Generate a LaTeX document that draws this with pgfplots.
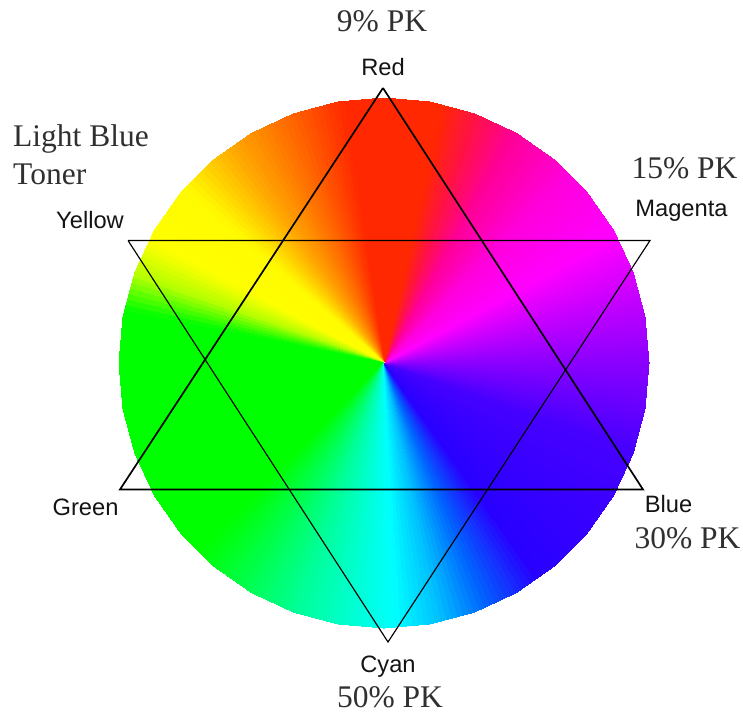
\documentclass[border=0pt]{standalone}
\usepackage{pgfplots}
\usepgfplotslibrary{patchplots}
\pgfplotsset{compat=1.18}
\usepackage{fontspec}
\setmainfont{Liberation Serif}
\newfontfamily\arial{Liberation Sans}

\definecolor{pktext}{RGB}{48,48,48}
\definecolor{lbltext}{RGB}{20,20,20}

% wheel: each wedge = one bilinear patch (centre, rim a, rim b, centre), meta = angle
\pgfplotstableread{
x y c
0 0 0
265 0 0
260.97 46.02 10
0 0 10
0 0 10
260.97 46.02 10
249.02 90.64 20
0 0 20
0 0 20
249.02 90.64 20
229.50 132.50 30
0 0 30
0 0 30
229.50 132.50 30
203.00 170.34 40
0 0 40
0 0 40
203.00 170.34 40
170.34 203.00 50
0 0 50
0 0 50
170.34 203.00 50
132.50 229.50 60
0 0 60
0 0 60
132.50 229.50 60
90.64 249.02 70
0 0 70
0 0 70
90.64 249.02 70
46.02 260.97 80
0 0 80
0 0 80
46.02 260.97 80
0 265 90
0 0 90
0 0 90
0 265 90
-46.02 260.97 100
0 0 100
0 0 100
-46.02 260.97 100
-90.64 249.02 110
0 0 110
0 0 110
-90.64 249.02 110
-132.50 229.50 120
0 0 120
0 0 120
-132.50 229.50 120
-170.34 203.00 130
0 0 130
0 0 130
-170.34 203.00 130
-203.00 170.34 140
0 0 140
0 0 140
-203.00 170.34 140
-229.50 132.50 150
0 0 150
0 0 150
-229.50 132.50 150
-249.02 90.64 160
0 0 160
0 0 160
-249.02 90.64 160
-260.97 46.02 170
0 0 170
0 0 170
-260.97 46.02 170
-265 0 180
0 0 180
0 0 180
-265 0 180
-260.97 -46.02 190
0 0 190
0 0 190
-260.97 -46.02 190
-249.02 -90.64 200
0 0 200
0 0 200
-249.02 -90.64 200
-229.50 -132.50 210
0 0 210
0 0 210
-229.50 -132.50 210
-203.00 -170.34 220
0 0 220
0 0 220
-203.00 -170.34 220
-170.34 -203.00 230
0 0 230
0 0 230
-170.34 -203.00 230
-132.50 -229.50 240
0 0 240
0 0 240
-132.50 -229.50 240
-90.64 -249.02 250
0 0 250
0 0 250
-90.64 -249.02 250
-46.02 -260.97 260
0 0 260
0 0 260
-46.02 -260.97 260
0 -265 270
0 0 270
0 0 270
0 -265 270
46.02 -260.97 280
0 0 280
0 0 280
46.02 -260.97 280
90.64 -249.02 290
0 0 290
0 0 290
90.64 -249.02 290
132.50 -229.50 300
0 0 300
0 0 300
132.50 -229.50 300
170.34 -203.00 310
0 0 310
0 0 310
170.34 -203.00 310
203.00 -170.34 320
0 0 320
0 0 320
203.00 -170.34 320
229.50 -132.50 330
0 0 330
0 0 330
229.50 -132.50 330
249.02 -90.64 340
0 0 340
0 0 340
249.02 -90.64 340
260.97 -46.02 350
0 0 350
0 0 350
260.97 -46.02 350
265 0 360
0 0 360
}\wheel

\begin{document}
\begin{tikzpicture}
\begin{axis}[
    x=1pt, y=1pt,
    xmin=-384, xmax=359,
    ymin=-350, ymax=363,
    hide axis,
    clip=false,
    colormap={hue}{
        rgb255(0)=(140,0,255)
        rgb255(15)=(200,0,255)
        rgb255(28)=(255,0,255)
        rgb255(45)=(255,0,220)
        rgb255(60)=(255,0,150)
        rgb255(70)=(255,20,60)
        rgb255(77)=(255,40,0)
        rgb255(98)=(255,40,0)
        rgb255(110)=(255,100,0)
        rgb255(125)=(255,170,0)
        rgb255(138)=(255,250,0)
        rgb255(152)=(255,255,0)
        rgb255(160)=(180,255,0)
        rgb255(168)=(0,255,0)
        rgb255(225)=(0,255,0)
        rgb255(250)=(0,255,150)
        rgb255(272)=(0,255,255)
        rgb255(282)=(0,190,255)
        rgb255(292)=(0,100,255)
        rgb255(305)=(40,0,255)
        rgb255(340)=(70,0,255)
        rgb255(360)=(140,0,255)
    },
    point meta min=0, point meta max=360,
]
\path (axis cs:-384,-350) rectangle (axis cs:359,363);

\addplot[patch, patch type=bilinear, shader=interp, point meta=explicit]
    table[x=x, y=y, meta=c] {\wheel};

% upward triangle: Red, Green, Blue
\addplot[black, line width=1.7pt, line join=miter, mark=none]
    coordinates {(-1,275) (-264,-126.5) (259,-126.5) (-1,275)};
% downward triangle: Yellow, Magenta, Cyan
\addplot[black, line width=1.15pt, line join=miter, mark=none]
    coordinates {(-256,122.5) (266,122.5) (4,-279) (-256,122.5)};

\begin{scope}[every node/.style={inner sep=0pt, anchor=base}]
\node[text=pktext, font=\fontsize{31.5}{32}\selectfont] at (axis cs:-2,331) {9\% PK};
\node[text=pktext, font=\fontsize{31.5}{32}\selectfont, anchor=base west] at (axis cs:-371,216) {Light Blue};
\node[text=pktext, font=\fontsize{31.5}{32}\selectfont, anchor=base west] at (axis cs:-371,178) {Toner};
\node[text=pktext, font=\fontsize{31.5}{32}\selectfont] at (axis cs:300.5,184) {15\% PK};
\node[text=pktext, font=\fontsize{31.5}{32}\selectfont] at (axis cs:303.5,-185) {30\% PK};
\node[text=pktext, font=\fontsize{31.5}{32}\selectfont] at (axis cs:6,-344) {50\% PK};

\node[text=lbltext, font=\arial\fontsize{23.7}{24}\selectfont] at (axis cs:-1,287) {Red};
\node[text=lbltext, font=\arial\fontsize{23.7}{24}\selectfont] at (axis cs:-294,134) {Yellow};
\node[text=lbltext, font=\arial\fontsize{23.7}{24}\selectfont] at (axis cs:297.5,146) {Magenta};
\node[text=lbltext, font=\arial\fontsize{23.7}{24}\selectfont] at (axis cs:-298.5,-152) {Green};
\node[text=lbltext, font=\arial\fontsize{23.7}{24}\selectfont] at (axis cs:284.5,-149) {Blue};
\node[text=lbltext, font=\arial\fontsize{23.7}{24}\selectfont] at (axis cs:4,-309) {Cyan};
\end{scope}
\end{axis}
\end{tikzpicture}
\end{document}
